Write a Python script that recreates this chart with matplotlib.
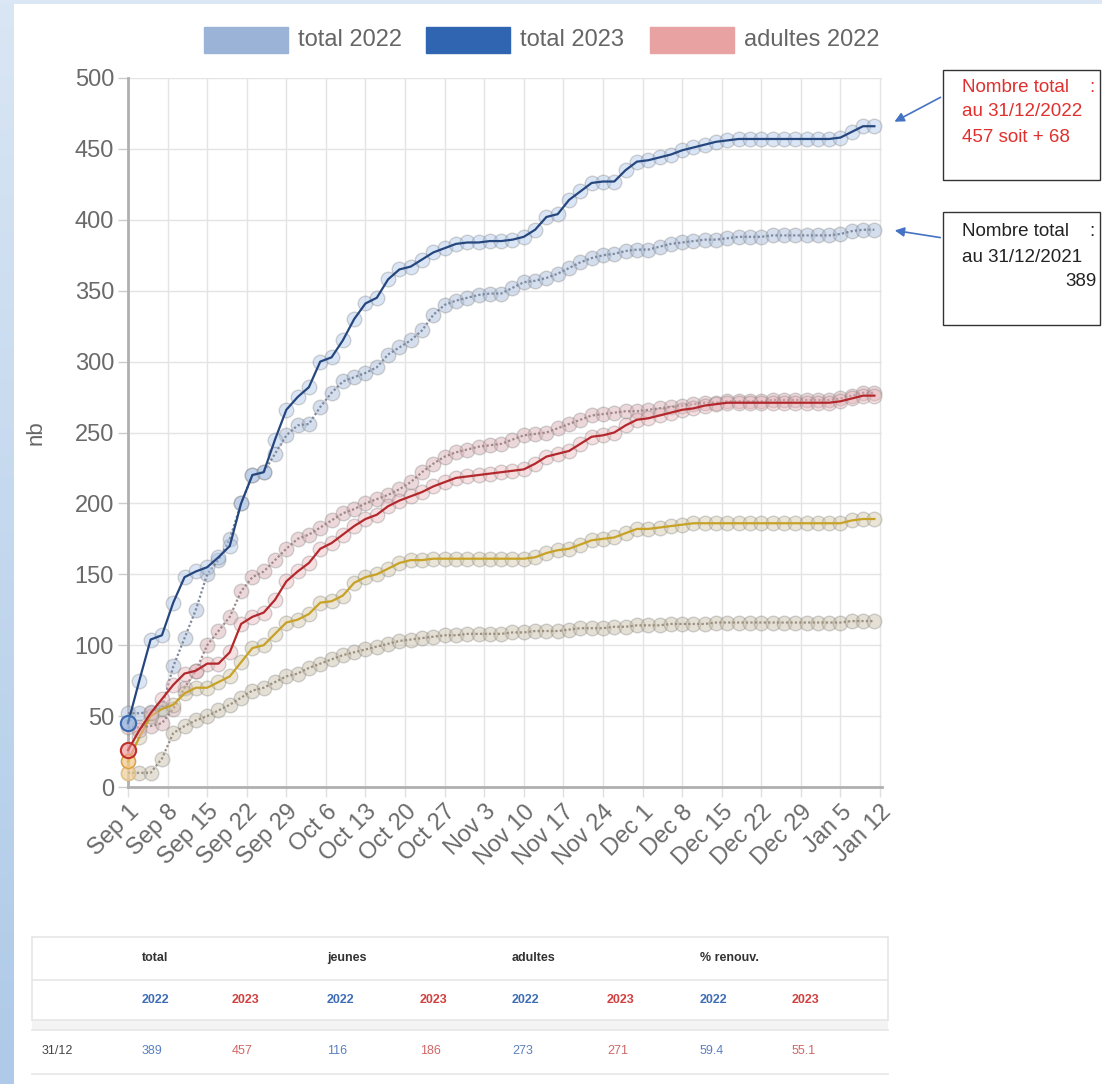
import matplotlib
matplotlib.use('Agg')

import numpy as np
import matplotlib.pyplot as plt
from matplotlib.patches import Rectangle

plt.rcParams['font.family'] = ['Liberation Sans', 'DejaVu Sans']

W, H = 1102, 1084

# days since Sep 1, one reading every 2 days (Sep 1 ... Jan 11)
days = np.arange(0, 134, 2)

total_2022 = [52, 52, 53, 56, 85, 105, 125, 150, 160, 175, 200, 220, 222, 235, 248, 255, 256, 268, 278, 286,
              289, 292, 296, 305, 310, 315, 322, 333, 340, 343, 345, 347, 348, 348, 352, 356, 357, 359, 362, 366,
              370, 373, 375, 376, 378, 379, 379, 381, 383, 384, 385, 386, 386, 387, 388, 388, 388, 389, 389, 389,
              389, 389, 389, 390, 392, 393, 393]
total_2023 = [45, 75, 104, 107, 130, 148, 152, 155, 162, 170, 200, 220, 222, 245, 266, 275, 282, 300, 303, 315,
              330, 341, 345, 358, 365, 367, 372, 377, 380, 383, 384, 384, 385, 385, 386, 388, 393, 402, 404, 414,
              420, 426, 427, 427, 435, 441, 442, 444, 446, 449, 451, 453, 455, 456, 457, 457, 457, 457, 457, 457,
              457, 457, 457, 458, 462, 466, 466]
adultes_2022 = [42, 42, 43, 45, 55, 70, 82, 100, 110, 120, 138, 148, 152, 160, 168, 175, 178, 183, 188, 193,
                196, 200, 203, 206, 210, 215, 222, 228, 233, 236, 238, 240, 241, 242, 245, 248, 249, 250, 253, 256,
                259, 262, 263, 264, 265, 265, 266, 267, 268, 269, 270, 271, 271, 272, 272, 272, 272, 273, 273, 273,
                273, 273, 273, 274, 276, 278, 278]
adultes_2023 = [26, 40, 52, 62, 72, 80, 82, 87, 87, 95, 115, 120, 123, 132, 145, 152, 158, 168, 172, 178,
                184, 189, 192, 198, 202, 205, 208, 212, 215, 218, 219, 220, 221, 222, 223, 224, 228, 233, 235, 237,
                242, 247, 248, 250, 255, 259, 260, 262, 264, 266, 267, 269, 270, 271, 271, 271, 271, 271, 271, 271,
                271, 271, 271, 272, 274, 276, 276]
jeunes_2022 = [10, 10, 10, 20, 38, 43, 47, 50, 54, 58, 63, 68, 70, 74, 78, 80, 84, 87, 90, 93,
               95, 97, 99, 101, 103, 104, 105, 106, 107, 107, 108, 108, 108, 108, 109, 109, 110, 110, 110, 111,
               112, 112, 112, 113, 113, 114, 114, 114, 115, 115, 115, 115, 116, 116, 116, 116, 116, 116, 116, 116,
               116, 116, 116, 116, 117, 117, 117]
jeunes_2023 = [18, 35, 50, 55, 58, 66, 70, 70, 74, 78, 88, 98, 100, 108, 116, 118, 122, 130, 131, 135,
               144, 148, 150, 154, 158, 160, 160, 161, 161, 161, 161, 161, 161, 161, 161, 161, 162, 165, 167, 168,
               171, 174, 175, 176, 179, 182, 182, 183, 184, 185, 186, 186, 186, 186, 186, 186, 186, 186, 186, 186,
               186, 186, 186, 186, 188, 189, 189]

week_labels = ["Sep 1", "Sep 8", "Sep 15", "Sep 22", "Sep 29", "Oct 6", "Oct 13", "Oct 20", "Oct 27",
               "Nov 3", "Nov 10", "Nov 17", "Nov 24", "Dec 1", "Dec 8", "Dec 15", "Dec 22", "Dec 29",
               "Jan 5", "Jan 12"]

table_groups = ["total", "jeunes", "adultes", "% renouv."]
table_2022 = ["389", "116", "273", "59.4"]
table_2023 = ["457", "186", "271", "55.1"]


def px(x, y):
    return x / W, 1 - y / H


fig = plt.figure(figsize=(W / 100, H / 100), dpi=100)

# light blue frame on the left / top
grad = fig.add_axes([0, 0, 14 / W, 1])
grad.imshow(np.linspace(0, 1, 200).reshape(-1, 1), cmap=matplotlib.colors.LinearSegmentedColormap.from_list(
    "fr", ["#d9e6f4", "#aecae8"]), aspect='auto', extent=[0, 1, 0, 1], origin='upper')
grad.axis('off')
top = fig.add_axes([0, 1 - 4 / H, 1, 4 / H])
top.set_facecolor("#dbe7f4")
top.set_xticks([]); top.set_yticks([])
for s in top.spines.values():
    s.set_visible(False)

ax = fig.add_axes([128 / W, 1 - 787 / H, (882 - 128) / W, (787 - 78) / H])
ax.set_xlim(0, 133.35)
ax.set_ylim(0, 500)
ax.set_yticks(range(0, 501, 50))
ax.set_xticks(range(0, 134, 7))
ax.set_xticklabels(week_labels, rotation=45, ha='right', rotation_mode='anchor')
ax.grid(True, color="#e4e4e4", lw=1)
ax.set_axisbelow(True)
for s in ["top", "right"]:
    ax.spines[s].set_visible(False)
for s in ["left", "bottom"]:
    ax.spines[s].set_color("#b0b0b0")
    ax.spines[s].set_linewidth(2)
ax.tick_params(colors="#6a6a6a", labelsize=17, length=7, width=1, pad=3)
ax.tick_params(axis='x', color="#e0e0e0")
ax.tick_params(axis='y', color="#cccccc")
ax.set_ylabel("nb", fontsize=16, color="#666666", labelpad=20)

grey_edge = (0.45, 0.45, 0.45, 0.30)

# (values, band face, center line colour, center line style)
series = [
    (jeunes_2022, (0.80, 0.76, 0.68, 0.50), "#9a9080", (0, (1, 1))),
    (adultes_2022, (0.86, 0.70, 0.72, 0.50), "#a08888", (0, (1, 1))),
    (total_2022, (0.68, 0.75, 0.86, 0.50), "#7d8aa0", (0, (1, 1))),
    (jeunes_2023, (0.82, 0.78, 0.66, 0.45), "#c8a226", "-"),
    (adultes_2023, (0.92, 0.72, 0.74, 0.45), "#b2282c", "-"),
    (total_2023, (0.68, 0.78, 0.92, 0.45), "#26477e", "-"),
]
for i, (vals, face, lc, ls) in enumerate(series):
    ax.plot(days, vals, ls='none', marker='o', ms=10.5, mfc=face, mec=grey_edge, mew=1,
            zorder=3 + i, clip_on=False)
    ax.plot(days, vals, color=lc, ls=ls, lw=1.6, zorder=3.5 + i, clip_on=False)

# first-point markers as in the reference
ax.plot([0], [total_2023[0]], marker='o', ms=11, mfc=(0.55, 0.7, 0.9, 0.5), mec="#3a6ab0", mew=1.5,
        zorder=20, clip_on=False)
ax.plot([0], [adultes_2023[0]], marker='o', ms=11, mfc=(0.95, 0.6, 0.6, 0.5), mec="#c0302c", mew=1.5,
        zorder=20, clip_on=False)
ax.plot([0], [jeunes_2023[0]], marker='o', ms=10, mfc=(1.0, 0.8, 0.5, 0.5), mec="#e0a040", mew=1,
        zorder=19, clip_on=False)
ax.plot([0], [jeunes_2022[0]], marker='o', ms=10, mfc=(1.0, 0.85, 0.6, 0.5), mec="#e8c080", mew=1,
        zorder=18, clip_on=False)

# legend (clipped in the reference after three entries)
legend_items = [("total 2022", "#9bb3d6", 204), ("total 2023", "#2f65b1", 426), ("adultes 2022", "#e8a2a2", 650)]
for label, col, x0 in legend_items:
    fig.add_artist(Rectangle(px(x0, 53), 84 / W, 26 / H, transform=fig.transFigure, color=col))
    fig.text(*px(x0 + 94, 40), label, fontsize=17, color="#666666", va='center', ha='left')

# note boxes
fig.add_artist(Rectangle(px(943, 180), 157 / W, 110 / H, transform=fig.transFigure,
                         fill=False, ec="#333333", lw=1))
fig.add_artist(Rectangle(px(943, 325), 157 / W, 113 / H, transform=fig.transFigure,
                         fill=False, ec="#333333", lw=1))
red = "#e0302e"
fs = 13.5
fig.text(*px(962, 87), "Nombre total    :", fontsize=fs, color=red, va='center')
fig.text(*px(962, 112), "au 31/12/2022", fontsize=fs, color=red, va='center')
fig.text(*px(962, 138), "457 soit + 68", fontsize=fs, color=red, va='center')
fig.text(*px(962, 232), "Nombre total    :", fontsize=fs, color="#222222", va='center')
fig.text(*px(962, 257), "au 31/12/2021", fontsize=fs, color="#222222", va='center')
fig.text(*px(1097, 282), "389", fontsize=fs, color="#222222", va='center', ha='right')

arrow = dict(arrowstyle="-|>", color="#4472c4", lw=1.2, mutation_scale=14)
fig.add_artist(matplotlib.patches.FancyArrowPatch(px(943, 96), px(892, 123), transform=fig.transFigure, **arrow))
fig.add_artist(matplotlib.patches.FancyArrowPatch(px(943, 238), px(892, 230), transform=fig.transFigure, **arrow))

# summary table
line_c = "#e6e6e6"
for yy in [937, 980, 1020, 1030, 1074]:
    fig.add_artist(plt.Line2D([32 / W, 888 / W], [1 - yy / H] * 2, color=line_c, lw=1.2,
                              transform=fig.transFigure))
for xx in [32, 888]:
    fig.add_artist(plt.Line2D([xx / W] * 2, [1 - 937 / H, 1 - 1020 / H], color=line_c, lw=1.2,
                              transform=fig.transFigure))
fig.add_artist(Rectangle(px(32, 1030), 856 / W, 10 / H, transform=fig.transFigure, color="#f4f4f4", lw=0))

col_x = [142, 232, 327, 420, 512, 607, 700, 792]
tfs = 9
for i, g in enumerate(table_groups):
    fig.text(*px(col_x[2 * i], 958), g, fontsize=tfs, fontweight='bold', color="#333333", va='center')
    fig.text(*px(col_x[2 * i], 1000), "2022", fontsize=tfs, fontweight='bold', color="#3f6db5", va='center')
    fig.text(*px(col_x[2 * i + 1], 1000), "2023", fontsize=tfs, fontweight='bold', color="#d04040", va='center')
    fig.text(*px(col_x[2 * i], 1051), table_2022[i], fontsize=tfs, color="#5a80c0", va='center')
    fig.text(*px(col_x[2 * i + 1], 1051), table_2023[i], fontsize=tfs, color="#d06666", va='center')
fig.text(*px(42, 1051), "31/12", fontsize=tfs, color="#444444", va='center')

fig.savefig("out.png", dpi=100, facecolor="white")
